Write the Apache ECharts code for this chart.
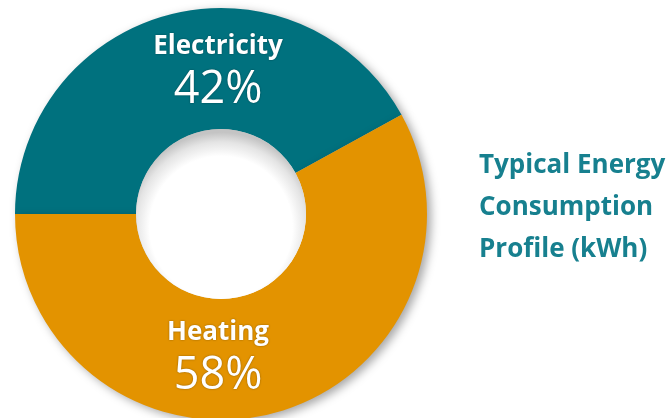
<!DOCTYPE html>
<html>
<head>
<meta charset="utf-8">
<script src="https://cdn.jsdelivr.net/npm/echarts@6/dist/echarts.min.js"></script>
<style>html,body{margin:0;padding:0;background:#fff}#c{width:667px;height:418px}</style>
</head>
<body>
<div id="c"></div>
<script>
const categories = ['Electricity', 'Heating'];
const values = [42, 58];
const colors = ['#00717E', '#E39300'];
const titleLines = ['Typical Energy', 'Consumption', 'Profile (kWh)'];

const W = 667, H = 418;
const cx = 221, cy = 214;
const base = Math.min(W, H) / 2;
const rIn = 85, rOut = 206;

const chart = echarts.init(document.getElementById('c'), null, {renderer: 'canvas'});
chart.setOption({
  backgroundColor: '#ffffff',
  animation: false,
  title: {
    text: titleLines.join('\n'),
    left: 474, top: 140,
    textStyle: {fontFamily: 'Open Sans', fontSize: 26, fontWeight: 'bold', color: '#17808F', lineHeight: 42}
  },
  series: [{
    type: 'pie',
    center: [cx, cy],
    radius: [(rIn / base * 100) + '%', (rOut / base * 100) + '%'],
    startAngle: 180,
    clockwise: true,
    silent: true,
    itemStyle: {shadowBlur: 10, shadowColor: 'rgba(0,0,0,0.35)', shadowOffsetX: 4, shadowOffsetY: 3},
    data: categories.map((c, i) => ({name: c, value: values[i], itemStyle: {color: colors[i]}})),
    label: {
      show: true, position: 'inside', color: '#fff',
      formatter: '{n|{b}}\n{v|{d}%}',
      rich: {
        n: {fontFamily: 'Open Sans', fontSize: 26, fontWeight: 'bold', color: '#fff', lineHeight: 40, textShadowColor: 'rgba(0,0,0,0.4)', textShadowBlur: 2},
        v: {fontFamily: 'Open Sans', fontSize: 45, color: '#fff', lineHeight: 46, textShadowColor: 'rgba(0,0,0,0.4)', textShadowBlur: 2}
      }
    },
    labelLine: {show: false},
    labelLayout: function (p) {
      return {x: cx - 3, y: p.dataIndex === 0 ? cy - 144 : cy + 142, align: 'center', verticalAlign: 'middle'};
    }
  }, {
    type: 'pie',
    center: [cx, cy],
    radius: [0, (rIn / base * 100) + '%'],
    silent: true,
    label: {show: false},
    labelLine: {show: false},
    data: [{value: 1, itemStyle: {color: {type: 'radial', x: 0.5, y: 0.58, r: 0.56, colorStops: [
      {offset: 0, color: '#ffffff'}, {offset: 0.75, color: '#ffffff'}, {offset: 0.9, color: '#e4e4e4'}, {offset: 1, color: '#c4c4c4'}]}}}]
  }]
});
</script>
</body>
</html>
